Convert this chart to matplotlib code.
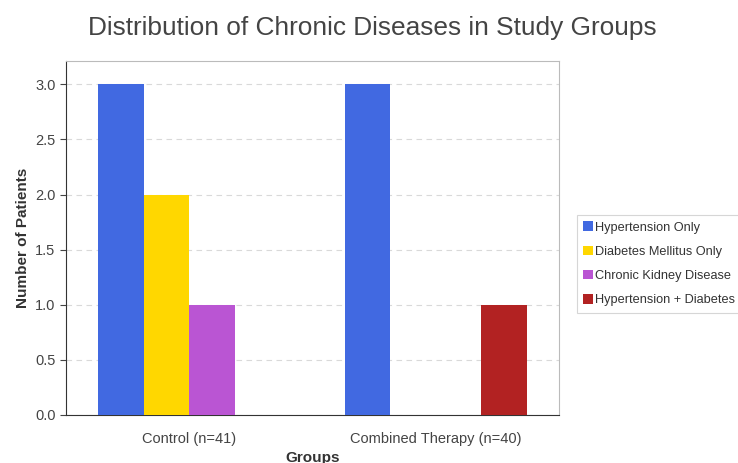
import numpy as np
import matplotlib.pyplot as plt

plt.rcParams['font.family'] = ['Liberation Sans', 'DejaVu Sans']

groups = ['Control (n=41)', 'Combined Therapy (n=40)']
diseases = ['Hypertension Only', 'Diabetes Mellitus Only',
            'Chronic Kidney Disease', 'Hypertension + Diabetes']
hypertension = [3, 3]
diabetes = [2, 0]
ckd = [1, 0]
hyp_diab = [0, 1]
colors = ['#4169E1', '#FFD700', '#BA55D3', '#B22222']

fig = plt.figure(figsize=(7.38, 4.63), dpi=100)
ax = fig.add_axes([0.0894, 0.1037, 0.6681, 0.7643])

x = np.arange(len(groups))
w = 0.185
series = [hypertension, diabetes, ckd, hyp_diab]
for i, (vals, name, c) in enumerate(zip(series, diseases, colors)):
    ax.bar(x + (i - 1.5) * w, vals, w, color=c, label=name, zorder=3)

ax.set_xlim(-0.5, 1.5)
ax.set_ylim(0, 3.21)
ax.set_yticks(np.arange(0, 3.01, 0.5))
ax.set_yticklabels(['%.1f' % v for v in np.arange(0, 3.01, 0.5)])
ax.set_xticks(x)
ax.set_xticklabels(groups)
ax.tick_params(labelsize=10.5, colors='#444444', length=4)
ax.tick_params(axis='x', length=0, pad=12)
ax.grid(axis='y', linestyle=(0, (5, 4)), color='#d9d9d9', linewidth=0.8, zorder=0)

for s in ['top', 'right']:
    ax.spines[s].set_color('#bbbbbb')
for s in ['left', 'bottom']:
    ax.spines[s].set_color('#333333')

ax.set_ylabel('Number of Patients', fontsize=11, fontweight='bold', color='#333333', labelpad=4)
ax.set_xlabel('Groups', fontsize=11, fontweight='bold', color='#333333', labelpad=4)
fig.suptitle('Distribution of Chronic Diseases in Study Groups', fontsize=18.9,
             color='#444444', x=0.504, y=0.965)

leg = ax.legend(loc='center left', bbox_to_anchor=(0.7815, 0.43),
                bbox_transform=fig.transFigure, borderaxespad=0, fontsize=9.2,
                handlelength=0.75, handleheight=0.75, handletextpad=0.2,
                labelspacing=0.95, borderpad=0.5, fancybox=False,
                edgecolor='#cccccc', labelcolor='#333333')
leg.get_frame().set_linewidth(0.8)

fig.savefig('out.png', dpi=100)
